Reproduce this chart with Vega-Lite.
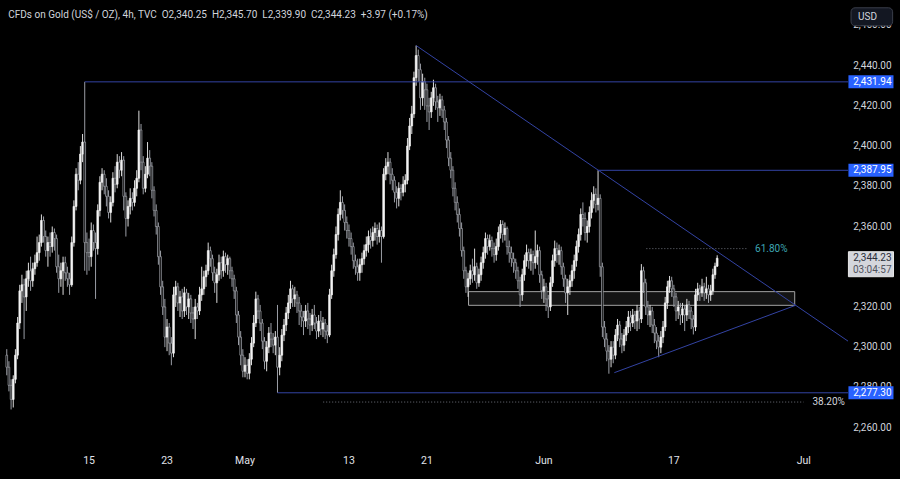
{
"$schema": "https://vega.github.io/schema/vega-lite/v6.json",
"width": 853, "height": 455,
"autosize": "none",
"padding": {"left": 0, "top": 0, "right": 47, "bottom": 24},
"background": "#000000",
"config": {"view": {"stroke": null}, "font": "Roboto"},
"datasets": {
"candles": [
{"n":-38,"o":2296,"h":2299,"l":2286,"c":2290},
{"n":-37,"o":2290,"h":2293,"l":2278,"c":2281},
{"n":-36,"o":2281,"h":2284,"l":2269,"c":2274},
{"n":-35,"o":2274,"h":2286,"l":2270,"c":2284},
{"n":-34,"o":2284,"h":2299,"l":2282,"c":2296},
{"n":-33,"o":2296,"h":2315,"l":2294,"c":2312},
{"n":-32,"o":2312,"h":2331,"l":2309,"c":2328},
{"n":-31,"o":2328,"h":2336,"l":2322,"c":2331},
{"n":-30,"o":2331,"h":2334,"l":2304,"c":2325},
{"n":-29,"o":2325,"h":2338,"l":2318,"c":2334},
{"n":-28,"o":2334,"h":2342,"l":2330,"c":2338},
{"n":-27,"o":2338,"h":2345,"l":2328,"c":2333},
{"n":-26,"o":2333,"h":2342,"l":2330,"c":2339},
{"n":-25,"o":2339,"h":2346,"l":2336,"c":2342},
{"n":-24,"o":2342,"h":2355,"l":2340,"c":2347},
{"n":-23,"o":2347,"h":2356,"l":2343,"c":2352},
{"n":-22,"o":2352,"h":2366,"l":2350,"c":2363},
{"n":-21,"o":2363,"h":2365,"l":2352,"c":2355},
{"n":-20,"o":2355,"h":2358,"l":2345,"c":2348},
{"n":-19,"o":2348,"h":2355,"l":2340,"c":2352},
{"n":-18,"o":2352,"h":2357,"l":2345,"c":2350},
{"n":-17,"o":2350,"h":2360,"l":2347,"c":2357},
{"n":-16,"o":2357,"h":2359,"l":2348,"c":2354},
{"n":-15,"o":2354,"h":2356,"l":2337,"c":2340},
{"n":-14,"o":2340,"h":2346,"l":2327,"c":2334},
{"n":-13,"o":2334,"h":2342,"l":2330,"c":2338},
{"n":-12,"o":2338,"h":2345,"l":2326,"c":2342},
{"n":-11,"o":2342,"h":2345,"l":2333,"c":2337},
{"n":-10,"o":2337,"h":2340,"l":2330,"c":2334},
{"n":-9,"o":2334,"h":2337,"l":2326,"c":2331},
{"n":-8,"o":2331,"h":2355,"l":2330,"c":2352},
{"n":-7,"o":2352,"h":2373,"l":2350,"c":2370},
{"n":-6,"o":2370,"h":2389,"l":2368,"c":2386},
{"n":-5,"o":2386,"h":2392,"l":2378,"c":2383},
{"n":-4,"o":2383,"h":2400,"l":2381,"c":2396},
{"n":-3,"o":2396,"h":2406,"l":2392,"c":2402},
{"n":-2,"o":2402,"h":2431.94,"l":2338,"c":2352},
{"n":-1,"o":2352,"h":2357,"l":2336,"c":2347},
{"n":0,"o":2347,"h":2354,"l":2338,"c":2345},
{"n":1,"o":2345,"h":2362,"l":2340,"c":2358},
{"n":2,"o":2358,"h":2361,"l":2348,"c":2352},
{"n":3,"o":2352,"h":2357,"l":2324,"c":2349},
{"n":4,"o":2349,"h":2371,"l":2346,"c":2368},
{"n":5,"o":2368,"h":2385,"l":2365,"c":2382},
{"n":6,"o":2382,"h":2389,"l":2378,"c":2386},
{"n":7,"o":2386,"h":2388,"l":2376,"c":2380},
{"n":8,"o":2380,"h":2384,"l":2370,"c":2375},
{"n":9,"o":2375,"h":2378,"l":2364,"c":2367},
{"n":10,"o":2367,"h":2375,"l":2362,"c":2372},
{"n":11,"o":2372,"h":2387,"l":2370,"c":2384},
{"n":12,"o":2384,"h":2390,"l":2377,"c":2381},
{"n":13,"o":2381,"h":2396,"l":2379,"c":2392},
{"n":14,"o":2392,"h":2395,"l":2384,"c":2388},
{"n":15,"o":2388,"h":2397,"l":2385,"c":2393},
{"n":16,"o":2393,"h":2395,"l":2368,"c":2375},
{"n":17,"o":2375,"h":2377,"l":2355,"c":2364},
{"n":18,"o":2364,"h":2373,"l":2360,"c":2370},
{"n":19,"o":2370,"h":2379,"l":2366,"c":2374},
{"n":20,"o":2374,"h":2377,"l":2368,"c":2372},
{"n":21,"o":2372,"h":2383,"l":2370,"c":2379},
{"n":22,"o":2379,"h":2388,"l":2375,"c":2384},
{"n":23,"o":2384,"h":2417.6,"l":2382,"c":2408},
{"n":24,"o":2408,"h":2411,"l":2388,"c":2392},
{"n":25,"o":2392,"h":2395,"l":2376,"c":2379},
{"n":26,"o":2379,"h":2390,"l":2377,"c":2386},
{"n":27,"o":2386,"h":2402,"l":2384,"c":2394},
{"n":28,"o":2394,"h":2398,"l":2385,"c":2390},
{"n":29,"o":2390,"h":2392,"l":2374,"c":2378},
{"n":30,"o":2378,"h":2380,"l":2365,"c":2368},
{"n":31,"o":2368,"h":2371,"l":2356,"c":2360},
{"n":32,"o":2360,"h":2362,"l":2341,"c":2345},
{"n":33,"o":2345,"h":2348,"l":2326,"c":2330},
{"n":34,"o":2330,"h":2333,"l":2316,"c":2320},
{"n":35,"o":2320,"h":2324,"l":2300,"c":2305},
{"n":36,"o":2305,"h":2314,"l":2298,"c":2310},
{"n":37,"o":2310,"h":2312,"l":2296,"c":2302},
{"n":38,"o":2302,"h":2305,"l":2291,"c":2297},
{"n":39,"o":2297,"h":2330,"l":2295,"c":2326},
{"n":40,"o":2326,"h":2333,"l":2320,"c":2330},
{"n":41,"o":2330,"h":2332,"l":2318,"c":2322},
{"n":42,"o":2322,"h":2328,"l":2315,"c":2325},
{"n":43,"o":2325,"h":2329,"l":2314,"c":2318},
{"n":44,"o":2318,"h":2330,"l":2315,"c":2327},
{"n":45,"o":2327,"h":2329,"l":2316,"c":2320},
{"n":46,"o":2320,"h":2327,"l":2314,"c":2324},
{"n":47,"o":2324,"h":2326,"l":2312,"c":2317},
{"n":48,"o":2317,"h":2320,"l":2309,"c":2314},
{"n":49,"o":2314,"h":2324,"l":2304,"c":2320},
{"n":50,"o":2320,"h":2322,"l":2314,"c":2318},
{"n":51,"o":2318,"h":2330,"l":2316,"c":2326},
{"n":52,"o":2326,"h":2340,"l":2323,"c":2329},
{"n":53,"o":2329,"h":2338,"l":2326,"c":2335},
{"n":54,"o":2335,"h":2341,"l":2330,"c":2338},
{"n":55,"o":2338,"h":2352,"l":2336,"c":2348},
{"n":56,"o":2348,"h":2350,"l":2340,"c":2344},
{"n":57,"o":2344,"h":2346,"l":2333,"c":2337},
{"n":58,"o":2337,"h":2340,"l":2327,"c":2332},
{"n":59,"o":2332,"h":2339,"l":2322,"c":2336},
{"n":60,"o":2336,"h":2346,"l":2333,"c":2342},
{"n":61,"o":2342,"h":2345,"l":2334,"c":2338},
{"n":62,"o":2338,"h":2348,"l":2335,"c":2345},
{"n":63,"o":2345,"h":2347,"l":2337,"c":2341},
{"n":64,"o":2341,"h":2346,"l":2336,"c":2344},
{"n":65,"o":2344,"h":2345,"l":2334,"c":2338},
{"n":66,"o":2338,"h":2340,"l":2330,"c":2334},
{"n":67,"o":2334,"h":2336,"l":2324,"c":2328},
{"n":68,"o":2328,"h":2330,"l":2312,"c":2316},
{"n":69,"o":2316,"h":2318,"l":2301,"c":2305},
{"n":70,"o":2305,"h":2308,"l":2291,"c":2296},
{"n":71,"o":2296,"h":2299,"l":2285,"c":2288},
{"n":72,"o":2288,"h":2295,"l":2285,"c":2291},
{"n":73,"o":2291,"h":2294,"l":2284,"c":2287},
{"n":74,"o":2287,"h":2297,"l":2284,"c":2294},
{"n":75,"o":2294,"h":2305,"l":2291,"c":2302},
{"n":76,"o":2302,"h":2316,"l":2300,"c":2312},
{"n":77,"o":2312,"h":2327.6,"l":2310,"c":2324},
{"n":78,"o":2324,"h":2326,"l":2314,"c":2318},
{"n":79,"o":2318,"h":2321,"l":2308,"c":2312},
{"n":80,"o":2312,"h":2314,"l":2299,"c":2303},
{"n":81,"o":2303,"h":2305,"l":2289,"c":2293},
{"n":82,"o":2293,"h":2303,"l":2288,"c":2300},
{"n":83,"o":2300,"h":2310,"l":2297,"c":2307},
{"n":84,"o":2307,"h":2312,"l":2300,"c":2304},
{"n":85,"o":2304,"h":2307,"l":2297,"c":2301},
{"n":86,"o":2301,"h":2308,"l":2296,"c":2305},
{"n":87,"o":2305,"h":2321,"l":2277.3,"c":2290},
{"n":88,"o":2290,"h":2300,"l":2286,"c":2296},
{"n":89,"o":2296,"h":2309,"l":2293,"c":2306},
{"n":90,"o":2306,"h":2314,"l":2303,"c":2311},
{"n":91,"o":2311,"h":2320,"l":2308,"c":2317},
{"n":92,"o":2317,"h":2326,"l":2314,"c":2322},
{"n":93,"o":2322,"h":2333,"l":2319,"c":2329},
{"n":94,"o":2329,"h":2331,"l":2320,"c":2324},
{"n":95,"o":2324,"h":2330,"l":2320,"c":2326},
{"n":96,"o":2326,"h":2328,"l":2317,"c":2322},
{"n":97,"o":2322,"h":2325,"l":2311,"c":2318},
{"n":98,"o":2318,"h":2321,"l":2310,"c":2315},
{"n":99,"o":2315,"h":2318,"l":2306,"c":2313},
{"n":100,"o":2313,"h":2321,"l":2310,"c":2318},
{"n":101,"o":2318,"h":2322,"l":2309,"c":2314},
{"n":102,"o":2314,"h":2317,"l":2306,"c":2311},
{"n":103,"o":2311,"h":2319,"l":2308,"c":2316},
{"n":104,"o":2316,"h":2321,"l":2309,"c":2312},
{"n":105,"o":2312,"h":2315,"l":2304,"c":2308},
{"n":106,"o":2308,"h":2316,"l":2305,"c":2313},
{"n":107,"o":2313,"h":2318,"l":2306,"c":2309},
{"n":108,"o":2309,"h":2315,"l":2305,"c":2312},
{"n":109,"o":2312,"h":2314,"l":2304,"c":2308},
{"n":110,"o":2308,"h":2311,"l":2302,"c":2306},
{"n":111,"o":2306,"h":2329,"l":2305,"c":2326},
{"n":112,"o":2326,"h":2341,"l":2324,"c":2338},
{"n":113,"o":2338,"h":2349,"l":2335,"c":2346},
{"n":114,"o":2346,"h":2360,"l":2344,"c":2356},
{"n":115,"o":2356,"h":2369,"l":2353,"c":2366},
{"n":116,"o":2366,"h":2378,"l":2363,"c":2372},
{"n":117,"o":2372,"h":2375,"l":2364,"c":2368},
{"n":118,"o":2368,"h":2371,"l":2358,"c":2362},
{"n":119,"o":2362,"h":2365,"l":2354,"c":2358},
{"n":120,"o":2358,"h":2361,"l":2350,"c":2354},
{"n":121,"o":2354,"h":2357,"l":2346,"c":2350},
{"n":122,"o":2350,"h":2352,"l":2339,"c":2343},
{"n":123,"o":2343,"h":2346,"l":2336,"c":2340},
{"n":124,"o":2340,"h":2344,"l":2333,"c":2337},
{"n":125,"o":2337,"h":2344,"l":2333,"c":2341},
{"n":126,"o":2341,"h":2347,"l":2337,"c":2344},
{"n":127,"o":2344,"h":2351,"l":2341,"c":2348},
{"n":128,"o":2348,"h":2355,"l":2345,"c":2351},
{"n":129,"o":2351,"h":2358,"l":2347,"c":2355},
{"n":130,"o":2355,"h":2359,"l":2349,"c":2353},
{"n":131,"o":2353,"h":2360,"l":2350,"c":2357},
{"n":132,"o":2357,"h":2362,"l":2353,"c":2359},
{"n":133,"o":2359,"h":2361,"l":2351,"c":2355},
{"n":134,"o":2355,"h":2362,"l":2352,"c":2358},
{"n":135,"o":2358,"h":2360,"l":2342,"c":2355},
{"n":136,"o":2355,"h":2389,"l":2354,"c":2386},
{"n":137,"o":2386,"h":2394,"l":2383,"c":2390},
{"n":138,"o":2390,"h":2397,"l":2386,"c":2392},
{"n":139,"o":2392,"h":2394,"l":2381,"c":2386},
{"n":140,"o":2386,"h":2389,"l":2378,"c":2383},
{"n":141,"o":2383,"h":2385,"l":2372,"c":2377},
{"n":142,"o":2377,"h":2380,"l":2369,"c":2374},
{"n":143,"o":2374,"h":2382,"l":2370,"c":2379},
{"n":144,"o":2379,"h":2381,"l":2373,"c":2377},
{"n":145,"o":2377,"h":2385,"l":2375,"c":2381},
{"n":146,"o":2381,"h":2386,"l":2377,"c":2383},
{"n":147,"o":2383,"h":2404,"l":2381,"c":2400},
{"n":148,"o":2400,"h":2414,"l":2398,"c":2410},
{"n":149,"o":2410,"h":2420,"l":2406,"c":2416},
{"n":150,"o":2416,"h":2437,"l":2414,"c":2434},
{"n":151,"o":2434,"h":2450,"l":2430,"c":2445},
{"n":152,"o":2445,"h":2448,"l":2432,"c":2438},
{"n":153,"o":2438,"h":2441,"l":2418,"c":2424},
{"n":154,"o":2424,"h":2436,"l":2420,"c":2432},
{"n":155,"o":2432,"h":2434,"l":2418,"c":2428},
{"n":156,"o":2428,"h":2431,"l":2412,"c":2420},
{"n":157,"o":2420,"h":2424,"l":2408,"c":2417},
{"n":158,"o":2417,"h":2427,"l":2414,"c":2424},
{"n":159,"o":2424,"h":2433,"l":2420,"c":2429},
{"n":160,"o":2429,"h":2431,"l":2418,"c":2422},
{"n":161,"o":2422,"h":2425,"l":2412,"c":2419},
{"n":162,"o":2419,"h":2426,"l":2415,"c":2423},
{"n":163,"o":2423,"h":2425,"l":2414,"c":2418},
{"n":164,"o":2418,"h":2420,"l":2408,"c":2412},
{"n":165,"o":2412,"h":2414,"l":2399,"c":2403},
{"n":166,"o":2403,"h":2405,"l":2390,"c":2394},
{"n":167,"o":2394,"h":2397,"l":2384,"c":2388},
{"n":168,"o":2388,"h":2390,"l":2375,"c":2379},
{"n":169,"o":2379,"h":2382,"l":2368,"c":2372},
{"n":170,"o":2372,"h":2375,"l":2362,"c":2366},
{"n":171,"o":2366,"h":2369,"l":2355,"c":2359},
{"n":172,"o":2359,"h":2362,"l":2345,"c":2348},
{"n":173,"o":2348,"h":2350,"l":2334,"c":2338},
{"n":174,"o":2338,"h":2340,"l":2327,"c":2330},
{"n":175,"o":2330,"h":2337,"l":2325,"c":2334},
{"n":176,"o":2334,"h":2341,"l":2331,"c":2338},
{"n":177,"o":2338,"h":2344,"l":2332,"c":2336},
{"n":178,"o":2336,"h":2349,"l":2333,"c":2340},
{"n":179,"o":2340,"h":2342,"l":2329,"c":2332},
{"n":180,"o":2332,"h":2339,"l":2330,"c":2336},
{"n":181,"o":2336,"h":2345,"l":2333,"c":2342},
{"n":182,"o":2342,"h":2350,"l":2339,"c":2347},
{"n":183,"o":2347,"h":2357,"l":2344,"c":2354},
{"n":184,"o":2354,"h":2356,"l":2346,"c":2350},
{"n":185,"o":2350,"h":2356,"l":2348,"c":2353},
{"n":186,"o":2353,"h":2355,"l":2345,"c":2349},
{"n":187,"o":2349,"h":2352,"l":2342,"c":2346},
{"n":188,"o":2346,"h":2354,"l":2343,"c":2350},
{"n":189,"o":2350,"h":2360,"l":2348,"c":2357},
{"n":190,"o":2357,"h":2363.2,"l":2354,"c":2361},
{"n":191,"o":2361,"h":2363,"l":2352,"c":2356},
{"n":192,"o":2356,"h":2362,"l":2353,"c":2359},
{"n":193,"o":2359,"h":2360,"l":2346,"c":2350},
{"n":194,"o":2350,"h":2353,"l":2342,"c":2347},
{"n":195,"o":2347,"h":2350,"l":2340,"c":2344},
{"n":196,"o":2344,"h":2347,"l":2337,"c":2342},
{"n":197,"o":2342,"h":2344,"l":2334,"c":2338},
{"n":198,"o":2338,"h":2340,"l":2329,"c":2333},
{"n":199,"o":2333,"h":2335,"l":2320,"c":2326},
{"n":200,"o":2326,"h":2339,"l":2323,"c":2336},
{"n":201,"o":2336,"h":2346,"l":2333,"c":2343},
{"n":202,"o":2343,"h":2351,"l":2340,"c":2347},
{"n":203,"o":2347,"h":2349,"l":2339,"c":2343},
{"n":204,"o":2343,"h":2349,"l":2338,"c":2346},
{"n":205,"o":2346,"h":2348,"l":2336,"c":2342},
{"n":206,"o":2342,"h":2358,"l":2339,"c":2345},
{"n":207,"o":2345,"h":2351,"l":2341,"c":2348},
{"n":208,"o":2348,"h":2350,"l":2332,"c":2336},
{"n":209,"o":2336,"h":2338,"l":2324,"c":2328},
{"n":210,"o":2328,"h":2334,"l":2322,"c":2330},
{"n":211,"o":2330,"h":2332,"l":2318,"c":2324},
{"n":212,"o":2324,"h":2326,"l":2314.5,"c":2320},
{"n":213,"o":2320,"h":2335,"l":2318,"c":2332},
{"n":214,"o":2332,"h":2346,"l":2330,"c":2343},
{"n":215,"o":2343,"h":2353,"l":2340,"c":2349},
{"n":216,"o":2349,"h":2352,"l":2342,"c":2346},
{"n":217,"o":2346,"h":2351,"l":2341,"c":2348},
{"n":218,"o":2348,"h":2350,"l":2336,"c":2340},
{"n":219,"o":2340,"h":2342,"l":2330,"c":2334},
{"n":220,"o":2334,"h":2336,"l":2322,"c":2327},
{"n":221,"o":2327,"h":2334,"l":2316,"c":2330},
{"n":222,"o":2330,"h":2336,"l":2326,"c":2333},
{"n":223,"o":2333,"h":2341,"l":2330,"c":2338},
{"n":224,"o":2338,"h":2346,"l":2334,"c":2343},
{"n":225,"o":2343,"h":2353,"l":2340,"c":2350},
{"n":226,"o":2350,"h":2359,"l":2347,"c":2356},
{"n":227,"o":2356,"h":2369,"l":2353,"c":2366},
{"n":228,"o":2366,"h":2372,"l":2360,"c":2364},
{"n":229,"o":2364,"h":2367,"l":2353,"c":2357},
{"n":230,"o":2357,"h":2363,"l":2352,"c":2360},
{"n":231,"o":2360,"h":2370,"l":2357,"c":2367},
{"n":232,"o":2367,"h":2377,"l":2364,"c":2373},
{"n":233,"o":2373,"h":2380,"l":2369,"c":2376},
{"n":234,"o":2376,"h":2379,"l":2367,"c":2371},
{"n":235,"o":2371,"h":2387.95,"l":2368,"c":2374},
{"n":236,"o":2374,"h":2376,"l":2335,"c":2340},
{"n":237,"o":2340,"h":2342,"l":2305,"c":2310},
{"n":238,"o":2310,"h":2313,"l":2300,"c":2304},
{"n":239,"o":2304,"h":2307,"l":2293,"c":2298},
{"n":240,"o":2298,"h":2301,"l":2286.8,"c":2294},
{"n":241,"o":2294,"h":2303,"l":2290,"c":2300},
{"n":242,"o":2300,"h":2303,"l":2292,"c":2296},
{"n":243,"o":2296,"h":2309,"l":2294,"c":2306},
{"n":244,"o":2306,"h":2314,"l":2303,"c":2311},
{"n":245,"o":2311,"h":2313,"l":2300,"c":2304},
{"n":246,"o":2304,"h":2307,"l":2297,"c":2301},
{"n":247,"o":2301,"h":2309,"l":2298,"c":2306},
{"n":248,"o":2306,"h":2313,"l":2303,"c":2310},
{"n":249,"o":2310,"h":2318,"l":2307,"c":2315},
{"n":250,"o":2315,"h":2318,"l":2308,"c":2312},
{"n":251,"o":2312,"h":2319,"l":2310,"c":2316},
{"n":252,"o":2316,"h":2318,"l":2309,"c":2313},
{"n":253,"o":2313,"h":2321,"l":2308,"c":2318},
{"n":254,"o":2318,"h":2320,"l":2309,"c":2314},
{"n":255,"o":2314,"h":2341.3,"l":2312,"c":2338},
{"n":256,"o":2338,"h":2340,"l":2327,"c":2332},
{"n":257,"o":2332,"h":2334,"l":2316,"c":2320},
{"n":258,"o":2320,"h":2323,"l":2311,"c":2316},
{"n":259,"o":2316,"h":2321,"l":2310,"c":2318},
{"n":260,"o":2318,"h":2320,"l":2307,"c":2311},
{"n":261,"o":2311,"h":2314,"l":2302,"c":2307},
{"n":262,"o":2307,"h":2310,"l":2299,"c":2303},
{"n":263,"o":2303,"h":2306,"l":2295,"c":2300},
{"n":264,"o":2300,"h":2308,"l":2297,"c":2305},
{"n":265,"o":2305,"h":2313,"l":2302,"c":2310},
{"n":266,"o":2310,"h":2325,"l":2308,"c":2322},
{"n":267,"o":2322,"h":2333,"l":2319,"c":2330},
{"n":268,"o":2330,"h":2335.4,"l":2327,"c":2333},
{"n":269,"o":2333,"h":2335,"l":2325,"c":2329},
{"n":270,"o":2329,"h":2331,"l":2320,"c":2325},
{"n":271,"o":2325,"h":2327,"l":2313,"c":2318},
{"n":272,"o":2318,"h":2323,"l":2314,"c":2320},
{"n":273,"o":2320,"h":2322,"l":2311,"c":2316},
{"n":274,"o":2316,"h":2322,"l":2312,"c":2319},
{"n":275,"o":2319,"h":2321,"l":2308,"c":2316},
{"n":276,"o":2316,"h":2324,"l":2313,"c":2321},
{"n":277,"o":2321,"h":2323,"l":2314,"c":2318},
{"n":278,"o":2318,"h":2320,"l":2309,"c":2314},
{"n":279,"o":2314,"h":2316,"l":2306.3,"c":2310},
{"n":280,"o":2310,"h":2329,"l":2308,"c":2326},
{"n":281,"o":2326,"h":2332,"l":2323,"c":2329},
{"n":282,"o":2329,"h":2331,"l":2323,"c":2327},
{"n":283,"o":2327,"h":2334,"l":2325,"c":2330},
{"n":284,"o":2330,"h":2332,"l":2323,"c":2327},
{"n":285,"o":2327,"h":2335,"l":2324,"c":2329},
{"n":286,"o":2329,"h":2331,"l":2322,"c":2326},
{"n":287,"o":2326,"h":2331,"l":2323,"c":2328},
{"n":288,"o":2328,"h":2339,"l":2326,"c":2336},
{"n":289,"o":2336,"h":2342,"l":2334,"c":2340.25},
{"n":290,"o":2340.25,"h":2345.7,"l":2339.9,"c":2344.23}
],
"levels": [
{"from": -2, "p": 2431.94},
{"from": 235, "p": 2387.95},
{"from": 87, "p": 2277.3}
],
"trend": [
{"id": "down", "n": 151, "p": 2450},
{"id": "down", "n": 350.4, "p": 2303.0},
{"id": "up", "n": 242.5, "p": 2287.3},
{"id": "up", "n": 326.2, "p": 2320.8}
],
"zone": [{"n1": 175.2, "n2": 325.8, "p1": 2320.8, "p2": 2327.6}],
"fibs": [
{"label": "61.80%", "n1": 257.3, "n2": 304.3, "p": 2349.0, "tn": 307.5},
{"label": "38.20%", "n1": 108.1, "n2": 329.9, "p": 2272.7, "tn": 334.0}
],
"ticks": [{"p": 2260}, {"p": 2280}, {"p": 2300}, {"p": 2320}, {"p": 2360}, {"p": 2380}, {"p": 2400}, {"p": 2420}, {"p": 2440}, {"p": 2460}],
"dates": [
{"n": 0, "label": "15"}, {"n": 36, "label": "23"}, {"n": 72, "label": "May"}, {"n": 120, "label": "13"},
{"n": 156, "label": "21"}, {"n": 210, "label": "Jun"}, {"n": 270, "label": "17"}, {"n": 330, "label": "Jul"}
],
"current": [{"p": 2344.23, "timer": "03:04:57"}],
"header": [{"text": "CFDs on Gold (US$ / OZ), 4h, TVC\u00a0\u00a0O2,340.25\u00a0\u00a0H2,345.70\u00a0\u00a0L2,339.90\u00a0\u00a0C2,344.23\u00a0\u00a0+3.97 (+0.17%)"}]
},
"layer": [
{
"data": {"name": "zone"},
"mark": {"type": "rect", "fill": "#141414", "stroke": "#a3a3a3", "strokeWidth": 1},
"encoding": {
"x": {"field": "n1", "type": "quantitative", "axis": null, "scale": {"domain": [-38.81, 350.4], "nice": false, "zero": false}},
"x2": {"field": "n2"},
"y": {"field": "p1", "type": "quantitative", "axis": null, "scale": {"domain": [2248.85, 2470.16], "nice": false, "zero": false}},
"y2": {"field": "p2"}
}
},
{
"data": {"name": "candles"},
"encoding": {
"x": {"field": "n", "type": "quantitative", "axis": null}
},
"layer": [
{
"mark": {"type": "rule", "strokeWidth": 1},
"encoding": {
"y": {"field": "l", "type": "quantitative", "axis": null},
"y2": {"field": "h"},
"color": {"condition": {"test": "datum.c >= datum.o", "value": "#dcdcdc"}, "value": "#9a9da5"}
}
},
{
"mark": {"type": "bar", "size": 1.7, "strokeWidth": 0.7},
"encoding": {
"y": {"field": "o", "type": "quantitative", "axis": null},
"y2": {"field": "c"},
"fill": {"condition": {"test": "datum.c >= datum.o", "value": "#f4f4f4"}, "value": "#000000"},
"stroke": {"condition": {"test": "datum.c >= datum.o", "value": "#f4f4f4"}, "value": "#a6a9b0"}
}
}
]
},
{
"data": {"name": "levels"},
"mark": {"type": "rule", "color": "#3343a3", "strokeWidth": 1},
"encoding": {
"x": {"field": "from", "type": "quantitative", "axis": null},
"x2": {"datum": 350.4},
"y": {"field": "p", "type": "quantitative", "axis": null}
}
},
{
"data": {"name": "trend"},
"mark": {"type": "line", "color": "#3343a3", "strokeWidth": 1},
"encoding": {
"x": {"field": "n", "type": "quantitative", "axis": null},
"y": {"field": "p", "type": "quantitative", "axis": null},
"detail": {"field": "id"}
}
},
{
"data": {"name": "fibs"},
"mark": {"type": "rule", "strokeWidth": 1, "strokeDash": [1, 2], "color": "#6d707a"},
"encoding": {
"x": {"field": "n1", "type": "quantitative", "axis": null},
"x2": {"field": "n2"},
"y": {"field": "p", "type": "quantitative", "axis": null}
}
},
{
"data": {"name": "fibs"},
"mark": {"type": "text", "align": "left", "baseline": "middle", "fontSize": 10, "font": "Roboto"},
"encoding": {
"x": {"field": "tn", "type": "quantitative", "axis": null},
"y": {"field": "p", "type": "quantitative", "axis": null},
"text": {"field": "label"},
"color": {"field": "label", "type": "nominal", "scale": {"domain": ["61.80%", "38.20%"], "range": ["#3ea6b2", "#d1d4dc"]}, "legend": null}
}
},
{
"data": {"name": "ticks"},
"mark": {"type": "text", "align": "right", "baseline": "middle", "fontSize": 10, "font": "Roboto", "color": "#d1d4dc"},
"encoding": {
"x": {"datum": 370.5, "type": "quantitative", "axis": null},
"y": {"field": "p", "type": "quantitative", "axis": null},
"text": {"field": "p", "type": "quantitative", "format": ",.2f"}
}
},
{
"data": {"name": "dates"},
"mark": {"type": "text", "align": "center", "baseline": "middle", "fontSize": 10.5, "font": "Roboto", "color": "#e0e3eb"},
"encoding": {
"x": {"field": "n", "type": "quantitative", "axis": null},
"y": {"datum": 2243.5, "type": "quantitative", "axis": null},
"text": {"field": "label"}
}
},
{
"data": {"name": "levels"},
"mark": {"type": "bar", "orient": "horizontal", "size": 13, "color": "#2962ff"},
"encoding": {
"x": {"datum": 350.6, "type": "quantitative", "axis": null},
"x2": {"datum": 371.4},
"y": {"field": "p", "type": "quantitative", "axis": null}
}
},
{
"data": {"name": "levels"},
"mark": {"type": "text", "align": "right", "baseline": "middle", "fontSize": 10, "font": "Roboto", "color": "#ffffff"},
"encoding": {
"x": {"datum": 370.5, "type": "quantitative", "axis": null},
"y": {"field": "p", "type": "quantitative", "axis": null},
"text": {"field": "p", "type": "quantitative", "format": ",.2f"}
}
},
{
"data": {"name": "current"},
"mark": {"type": "bar", "orient": "horizontal", "size": 25, "yOffset": 6, "fill": "#d4d6dc", "stroke": "#e8e8e8", "strokeWidth": 1},
"encoding": {
"x": {"datum": 350.6, "type": "quantitative", "axis": null},
"x2": {"datum": 371.4},
"y": {"field": "p", "type": "quantitative", "axis": null}
}
},
{
"data": {"name": "current"},
"mark": {"type": "text", "align": "right", "baseline": "middle", "fontSize": 10, "font": "Roboto", "color": "#2a2e39"},
"encoding": {
"x": {"datum": 370.5, "type": "quantitative", "axis": null},
"y": {"field": "p", "type": "quantitative", "axis": null},
"text": {"field": "p", "type": "quantitative", "format": ",.2f"}
}
},
{
"data": {"name": "current"},
"mark": {"type": "text", "align": "right", "baseline": "middle", "fontSize": 10, "font": "Roboto", "color": "#50535e", "dy": 12},
"encoding": {
"x": {"datum": 370.5, "type": "quantitative", "axis": null},
"y": {"field": "p", "type": "quantitative", "axis": null},
"text": {"field": "timer"}
}
},
{
"data": {"name": "header"},
"mark": {"type": "bar", "orient": "horizontal", "size": 18, "fill": "#131722", "stroke": "#3a3e4a", "strokeWidth": 1, "cornerRadius": 4},
"encoding": {
"x": {"datum": 351.8, "type": "quantitative", "axis": null},
"x2": {"datum": 371.0},
"y": {"datum": 2464.3, "type": "quantitative", "axis": null}
}
},
{
"data": {"name": "header"},
"mark": {"type": "text", "align": "left", "baseline": "middle", "fontSize": 10, "font": "Roboto", "color": "#d1d4dc", "text": "USD"},
"encoding": {
"x": {"datum": 355.0, "type": "quantitative", "axis": null},
"y": {"datum": 2464.3, "type": "quantitative", "axis": null}
}
},
{
"data": {"name": "header"},
"mark": {"type": "text", "align": "left", "baseline": "middle", "fontSize": 10, "font": "Roboto", "color": "#d1d4dc"},
"encoding": {
"x": {"datum": -37.3, "type": "quantitative", "axis": null},
"y": {"datum": 2465.3, "type": "quantitative", "axis": null},
"text": {"field": "text"}
}
}
]
}
